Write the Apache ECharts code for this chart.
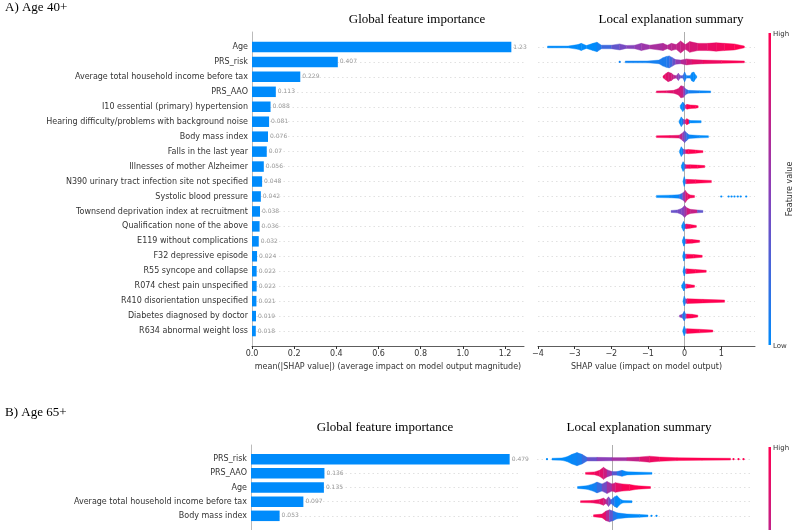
<!DOCTYPE html>
<html><head><meta charset="utf-8">
<script src="https://cdn.jsdelivr.net/npm/echarts@6/dist/echarts.min.js"></script>
<style>html,body{margin:0;padding:0;background:#fff}#c{width:800px;height:530px}</style>
</head><body><div id="c"></div>
<script>
// ---------- DATA ----------
const catsA = ['Age','PRS_risk','Average total household income before tax','PRS_AAO',
  'I10 essential (primary) hypertension','Hearing difficulty/problems with background noise',
  'Body mass index','Falls in the last year','Illnesses of mother Alzheimer',
  'N390 urinary tract infection site not specified','Systolic blood pressure',
  'Townsend deprivation index at recruitment','Qualification none of the above',
  'E119 without complications','F32 depressive episode','R55 syncope and collapse',
  'R074 chest pain unspecified','R410 disorientation unspecified',
  'Diabetes diagnosed by doctor','R634 abnormal weight loss'];
const importanceA = [1.23,0.407,0.229,0.113,0.088,0.081,0.076,0.07,0.056,0.048,0.042,0.038,0.036,0.032,0.024,0.022,0.022,0.021,0.019,0.018];
const barTicksA = [0,0.2,0.4,0.6,0.8,1.0,1.2];
const shapTicksA = [-4,-3,-2,-1,0,1];

const catsB = ['PRS_risk','PRS_AAO','Age','Average total household income before tax','Body mass index'];
const importanceB = [0.479,0.136,0.135,0.097,0.053];

// SHAP beeswarm outline per feature: [shap value, density, feature value (0 low .. 1 high, -1 missing)]
const swarmA = [
 [[-3.74,0.5,0],[-3.18,0.7,0],[-2.91,2,0],[-2.82,3,0],[-2.68,1.2,0],[-2.5,3,0],[-2.39,4,0],[-2.27,1.5,0.15],[-2.0,1.5,0.3],[-1.77,2.5,0.4],[-1.59,1.2,0.45],[-1.36,1.5,0.5],[-1.18,3,0.55],[-0.95,1.5,0.6],[-0.59,3,0.65],[-0.47,1.5,0.68],[-0.36,3,0.7],[-0.23,2,0.72],[-0.11,5,0.75],[0.02,2,0.78],[0.14,4.5,0.8],[0.36,3,0.85],[0.63,3,0.9],[0.86,3.5,0.92],[1.09,3,0.95],[1.36,2.5,1],[1.63,0.7,1]],
 [[-1.62,0.6,0.05],[-1.0,0.8,0.05],[-0.7,1.5,0.1],[-0.59,3.5,0.1],[-0.5,4.5,0.1],[-0.42,5,0.15],[-0.33,3.5,0.3],[-0.25,2,0.45],[-0.1,1.5,0.6],[0.05,2.5,0.75],[0.2,2,0.85],[0.5,1.5,0.9],[1.0,1.2,0.95],[1.63,0.6,1]],
 [[-0.59,0.5,0.9],[-0.52,2.5,0.9],[-0.45,4,0.85],[-0.36,3,0.8],[-0.3,1.5,0.75],[-0.23,1,0.6],[-0.17,3,0.5],[-0.12,1,0.4],[-0.05,1,0.3],[0.0,4,0.1],[0.05,1,0.05],[0.15,1,0.05],[0.2,3.5,0.02],[0.25,4,0],[0.3,1.5,0],[0.33,0.5,0]],
 [[-0.77,0.6,0.95],[-0.5,0.8,0.9],[-0.3,1.2,0.85],[-0.18,2.5,0.85],[-0.1,5,0.8],[-0.03,4.5,0.7],[0.02,2.5,0.3],[0.1,1.2,0.1],[0.4,0.9,0.05],[0.71,0.6,0]],
 [[-0.12,1,0],[-0.05,4,0],[0.0,2,0.1],[0.03,1,0.8],[0.06,2,1],[0.15,1.5,1],[0.3,1.2,1],[0.37,0.8,1]],
 [[-0.15,0.8,0],[-0.09,4,0],[-0.04,2,0.1],[0.02,1.5,0.8],[0.06,2.5,1],[0.12,1.5,1],[0.15,1,-1],[0.45,0.9,-1]],
 [[-0.77,0.7,1],[-0.4,0.9,0.95],[-0.15,1.2,0.85],[-0.06,3,0.6],[0.0,5,0.4],[0.06,3,0.2],[0.12,1.5,0.05],[0.4,1,0],[0.65,0.7,0]],
 [[-0.14,0.8,0],[-0.09,4,0],[-0.04,2,0.05],[0.03,1.5,0.9],[0.1,1.8,1],[0.3,1.3,1],[0.5,0.8,1]],
 [[-0.09,0.8,0],[-0.04,4,0],[0.0,2,0.05],[0.04,1.5,0.9],[0.15,1.5,1],[0.35,1.3,1],[0.55,0.8,1]],
 [[-0.04,0.8,0],[-0.01,4,0],[0.02,1.5,0.1],[0.05,1.8,0.95],[0.3,1.5,1],[0.73,0.9,1]],
 [[-0.77,0.9,0],[-0.4,1.1,0],[-0.15,1.5,0.05],[-0.05,3,0.3],[0.02,5,0.8],[0.08,2.5,0.9],[0.15,1.3,0.95],[0.27,0.8,1]],
 [[-0.37,0.8,0.35],[-0.2,1.2,0.4],[-0.08,2.5,0.45],[0.0,5,0.5],[0.06,3,0.7],[0.15,1.8,0.9],[0.35,1.2,0.6],[0.5,0.8,0.1]],
 [[-0.08,0.8,0],[-0.03,4,0],[0.01,1.5,0.1],[0.04,2,0.9],[0.15,1.5,1],[0.32,0.8,1]],
 [[-0.06,0.8,0],[-0.02,4,0],[0.02,1.5,0.1],[0.05,1.8,1],[0.2,1.5,1],[0.41,0.8,1]],
 [[-0.05,0.8,0],[-0.02,4,0],[0.02,1.5,0.1],[0.05,1.8,1],[0.25,1.5,1],[0.48,0.8,1]],
 [[-0.04,0.8,0],[-0.01,4,0],[0.02,1.5,0.1],[0.05,2,1],[0.3,1.5,1],[0.59,0.8,1]],
 [[-0.08,0.8,0],[-0.02,4,0],[0.02,1.5,0.1],[0.05,1.8,1],[0.15,1.3,1],[0.27,0.8,1]],
 [[-0.04,0.8,0],[-0.01,4,0],[0.03,1.5,0.2],[0.07,2,1],[0.5,1.5,1],[1.09,0.9,1]],
 [[-0.14,0.8,0.7],[-0.06,1.5,0.3],[-0.01,4,0],[0.03,1.5,0.2],[0.06,1.8,1],[0.2,1.5,1],[0.36,0.8,1]],
 [[-0.05,0.8,0],[-0.01,4,0],[0.03,1.5,0.1],[0.06,2,1],[0.4,1.5,1],[0.77,0.8,1]]
];
// isolated points: [row, shap value, feature value]
const dotsA = [[1,-1.77,0.05],[10,1.0,0],[10,1.2,0],[10,1.28,0],[10,1.36,0],[10,1.45,0],[10,1.53,0],[10,1.68,0]];

const swarmB = [
 [[-1.2,0.7,0],[-1.0,1,0],[-0.9,2,0],[-0.8,4,0.02],[-0.7,5.5,0.05],[-0.6,4,0.1],[-0.5,1.5,0.3],[-0.3,1.5,0.45],[0.0,1.3,0.55],[0.3,1.3,0.65],[0.55,1.8,0.8],[0.75,2.5,0.9],[0.95,1.8,0.95],[1.3,1.2,1],[1.8,0.9,1],[2.37,0.7,1]],
 [[-0.53,0.7,1],[-0.35,1.2,0.95],[-0.25,2.5,0.9],[-0.17,5,0.85],[-0.1,3,0.7],[0.0,1.5,0.45],[0.1,1.5,0.2],[0.2,2.5,0.05],[0.3,1.3,0],[0.8,0.7,0]],
 [[-0.69,0.7,0],[-0.5,1.5,0.02],[-0.38,3,0.05],[-0.3,4.5,0.1],[-0.2,3,0.3],[-0.1,5,0.5],[0.0,3,0.7],[0.07,4,0.85],[0.2,3,0.95],[0.35,2.5,1],[0.5,1.5,1],[0.77,0.7,1]],
 [[-0.63,0.7,1],[-0.4,1,0.95],[-0.25,1.8,0.9],[-0.17,3,0.85],[-0.12,1.5,0.7],[-0.07,4,0.5],[-0.02,1.5,0.3],[0.05,4,0.05],[0.1,5,0],[0.17,2,0],[0.22,1,-1],[0.4,0.8,-1]],
 [[-0.37,0.8,1],[-0.2,1.5,0.95],[-0.12,4,0.85],[-0.05,5,0.5],[0.02,4,0.2],[0.1,2.5,0.05],[0.3,1.5,0],[0.55,1.2,0],[0.72,0.7,0]]
];
const dotsB = [[0,-1.3,0],[0,2.43,1],[0,2.53,1],[0,2.63,1],[4,0.79,0],[4,0.89,0]];

// ---------- BUILD ----------
const BLUE = '#008bfb', RED = '#ff0051', MID = '#8b3fb8';
const FONT = 'DejaVu Sans';
const THICK = 1.2;   // px per density unit
const MIN_HALF = 0.9;

function buildSwarm(swarm, dots){
  const out = [];
  swarm.forEach((knots, i) => {
    for (let k = 0; k < knots.length - 1; k++) {
      const a = knots[k], b = knots[k+1];
      const f = (a[2] < 0 || b[2] < 0) ? -1 : (a[2] + b[2]) / 2;
      out.push([a[0], i + 1, b[0], a[1], b[1], f]);
    }
  });
  dots.forEach(d => out.push([d[1], d[0] + 1, d[1], 1.1, 1.1, d[2]]));
  return out;
}
function renderSwarm(params, api){
  const x0 = api.value(0), row = api.value(1), x1 = api.value(2);
  const d0 = Math.max(api.value(3) * THICK, MIN_HALF), d1 = Math.max(api.value(4) * THICK, MIN_HALF);
  const p0 = api.coord([x0, row]), p1 = api.coord([x1, row]);
  const color = api.visual('color');
  if (x0 === x1) {
    return {type:'circle', shape:{cx:p0[0], cy:p0[1], r:api.value(3)}, style:{fill:color}};
  }
  return {type:'polygon', shape:{points:[[p0[0],p0[1]-d0],[p1[0],p1[1]-d1],[p1[0],p1[1]+d1],[p0[0],p0[1]+d0]]},
    style:{fill:color, stroke:color, lineWidth:0.4}};
}
const gridLine = {show:true, interval:(i,v)=>v!=='', lineStyle:{color:'#cccccc', width:0.6, type:[1.5,3]}};
const padCats = c => [''].concat(c).concat(['']);
const padVals = v => ['-'].concat(v).concat(['-']);
const axisLbl = {fontFamily:FONT, fontSize:8, color:'#333'};
const minus = v => v < 0 ? '\u2212' + (-v) : String(v);
const titleStyle = (text, x, y, align) => ({type:'text', x, y, style:{text, font:'13px "Liberation Serif"', fill:'#000',
  align:align, textAlign:align, verticalAlign:'middle', textVerticalAlign:'middle'}});

const chart = echarts.init(document.getElementById('c'), null, {renderer:'canvas'});
const option = {
  animation:false,
  backgroundColor:'#fff',
  grid:[
    {left:252, top:32, width:272, height:314},
    {left:538, top:32, width:217, height:314},
    {left:251, top:445, width:270, height:90},
    {left:537, top:445, width:215, height:90}
  ],
  xAxis:[
    {gridIndex:0, type:'value', min:0, max:1.29,
     axisLine:{show:true, lineStyle:{color:'#333', width:0.8}},
     axisTick:{show:true, length:3, customValues:barTicksA, lineStyle:{color:'#333'}},
     axisLabel:Object.assign({customValues:barTicksA, margin:4, formatter:v=>v.toFixed(1)}, axisLbl),
     splitLine:{show:false},
     name:'mean(|SHAP value|) (average impact on model output magnitude)', nameLocation:'middle', nameGap:16,
     nameTextStyle:axisLbl},
    {gridIndex:1, type:'value', min:-4, max:1.92,
     axisLine:{show:true, lineStyle:{color:'#333', width:0.8}},
     axisTick:{show:true, length:3, customValues:shapTicksA, lineStyle:{color:'#333'}},
     axisLabel:Object.assign({customValues:shapTicksA, margin:4, formatter:minus}, axisLbl),
     splitLine:{show:false},
     name:'SHAP value (impact on model output)', nameLocation:'middle', nameGap:16,
     nameTextStyle:axisLbl},
    {gridIndex:2, type:'value', min:0, max:0.5, axisLine:{show:false}, axisTick:{show:false}, axisLabel:{show:false}, splitLine:{show:false}},
    {gridIndex:3, type:'value', min:-1.5, max:2.8, axisLine:{show:false}, axisTick:{show:false}, axisLabel:{show:false}, splitLine:{show:false}}
  ],
  yAxis:[
    {gridIndex:0, type:'category', inverse:true, boundaryGap:false, data:padCats(catsA),
     axisLine:{show:true, lineStyle:{color:'#aaa', width:0.8}}, axisTick:{show:false},
     axisLabel:Object.assign({interval:0, margin:4}, axisLbl), splitLine:gridLine},
    {gridIndex:1, type:'category', inverse:true, boundaryGap:false, data:padCats(catsA),
     axisLine:{show:false}, axisTick:{show:false}, axisLabel:{show:false}, splitLine:gridLine},
    {gridIndex:2, type:'category', inverse:true, boundaryGap:false, data:padCats(catsB),
     axisLine:{show:true, lineStyle:{color:'#aaa', width:0.8}}, axisTick:{show:false},
     axisLabel:Object.assign({interval:0, margin:4}, axisLbl), splitLine:gridLine},
    {gridIndex:3, type:'category', inverse:true, boundaryGap:false, data:padCats(catsB),
     axisLine:{show:false}, axisTick:{show:false}, axisLabel:{show:false}, splitLine:gridLine}
  ],
  visualMap:{show:false, type:'continuous', min:0, max:1, dimension:5, seriesIndex:[2,3],
    inRange:{color:[BLUE, MID, RED]}, outOfRange:{color:'#7f7f7f'}},
  series:[
    {type:'bar', xAxisIndex:0, yAxisIndex:0, data:padVals(importanceA), barWidth:10.5,
     itemStyle:{color:BLUE},
     label:{show:true, position:'right', distance:2, fontFamily:FONT, fontSize:6, color:'#999', formatter:p=>String(p.value)}},
    {type:'bar', xAxisIndex:2, yAxisIndex:2, data:padVals(importanceB), barWidth:10.5,
     itemStyle:{color:BLUE},
     label:{show:true, position:'right', distance:2, fontFamily:FONT, fontSize:6, color:'#999', formatter:p=>String(p.value)}},
    {type:'custom', xAxisIndex:1, yAxisIndex:1, data:buildSwarm(swarmA, dotsA), renderItem:renderSwarm,
     encode:{x:[0,2], y:1}, z:3,
     markLine:{silent:true, z:1, symbol:'none', label:{show:false}, lineStyle:{color:'#999', width:0.8, type:'solid'}, data:[{xAxis:0}]}},
    {type:'custom', xAxisIndex:3, yAxisIndex:3, data:buildSwarm(swarmB, dotsB), renderItem:renderSwarm,
     encode:{x:[0,2], y:1}, z:3,
     markLine:{silent:true, z:1, symbol:'none', label:{show:false}, lineStyle:{color:'#999', width:0.8, type:'solid'}, data:[{xAxis:0}]}}
  ],
  graphic:[
    titleStyle('A) Age 40+', 5, 8, 'left'),
    titleStyle('Global feature importance', 417, 20, 'center'),
    titleStyle('Local explanation summary', 671, 20, 'center'),
    titleStyle('B) Age 65+', 5, 413, 'left'),
    titleStyle('Global feature importance', 385, 428, 'center'),
    titleStyle('Local explanation summary', 639, 428, 'center'),
    {type:'rect', shape:{x:768.5, y:33, width:2.5, height:312},
     style:{fill:new echarts.graphic.LinearGradient(0,0,0,1,[{offset:0,color:RED},{offset:0.5,color:MID},{offset:1,color:BLUE}])}},
    {type:'text', x:773, y:34, style:{text:'High', font:'7px "DejaVu Sans"', fill:'#333', verticalAlign:'middle', textVerticalAlign:'middle'}},
    {type:'text', x:773, y:346, style:{text:'Low', font:'7px "DejaVu Sans"', fill:'#333', verticalAlign:'middle', textVerticalAlign:'middle'}},
    {type:'text', x:790, y:189, rotation:Math.PI/2, style:{text:'Feature value', font:'8px "DejaVu Sans"', fill:'#333', align:'center', textAlign:'center', verticalAlign:'middle', textVerticalAlign:'middle'}},
    {type:'rect', shape:{x:768.5, y:447, width:2.5, height:312},
     style:{fill:new echarts.graphic.LinearGradient(0,0,0,1,[{offset:0,color:RED},{offset:0.5,color:MID},{offset:1,color:BLUE}])}},
    {type:'text', x:773, y:448, style:{text:'High', font:'7px "DejaVu Sans"', fill:'#333', verticalAlign:'middle', textVerticalAlign:'middle'}}
  ]
};
chart.setOption(option);
</script></body></html>
